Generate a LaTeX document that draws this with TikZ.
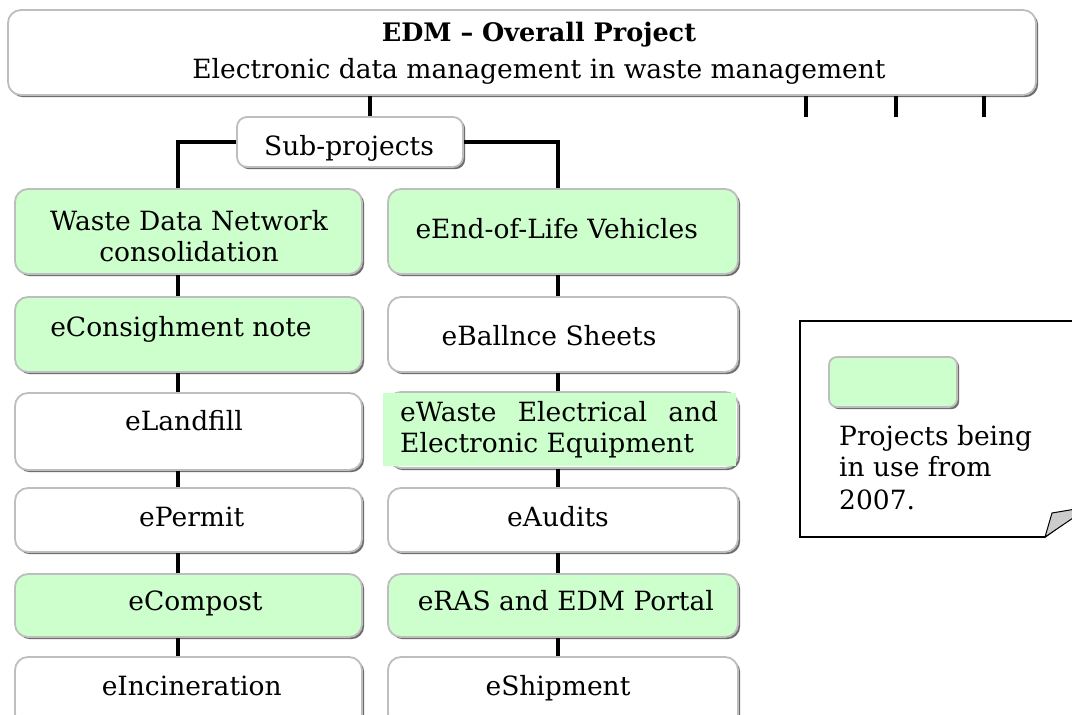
\documentclass[tikz,border=0pt]{standalone}
\usepackage{fontspec}
\setmainfont{DejaVu Serif}
\usetikzlibrary{shadows}
\definecolor{usegreen}{HTML}{CCFFCC}
\definecolor{rimgray}{HTML}{BEBEBE}
\definecolor{shadegray}{HTML}{6E6E6E}
\tikzset{
  box/.style={draw=rimgray, line width=1.8pt, rounded corners=13pt, fill=white,
    inner sep=0pt,
    drop shadow={shadow xshift=2.2pt, shadow yshift=-2.2pt, fill=shadegray, opacity=1}},
  inuse/.style={box, fill=usegreen},
  colL/.style={minimum width=347pt},
  colR/.style={minimum width=350pt},
  txt/.style={anchor=base, inner sep=0pt, font=\fontsize{26.5}{31}\selectfont},
  wire/.style={line width=3.4pt, black},
}
\begin{document}
\begin{tikzpicture}[x=1pt, y=-1pt]
\clip (0,0) rectangle (1072,715);
\fill[white] (0,0) rectangle (1072,715);

% overall project
\node[box, minimum width=1028pt, minimum height=85pt] (top) at (522,52.5) {};
\node[txt, font=\fontsize{25.5}{31}\selectfont\bfseries] (topA) at (539,41.7) {EDM – Overall Project};
\node[txt] (topB) at (539,78.3) {Electronic data management in waste management};

% sub-projects header
\node[box, minimum width=226pt, minimum height=50pt, rounded corners=10pt] (sub) at (350,142) {};
\node[txt] (subT) at (349,155) {Sub-projects};

% left column
\node[inuse, colL, minimum height=85pt] (l1) at (188.5,231.5) {};
\node[inuse, colL, minimum height=75pt] (l2) at (188.5,334.5) {};
\node[box,   colL, minimum height=77pt] (l3) at (188.5,431.5) {};
\node[box,   colL, minimum height=64pt] (l4) at (188.5,520) {};
\node[inuse, colL, minimum height=63pt] (l5) at (188.5,605.5) {};
\node[box,   colL, minimum height=70pt] (l6) at (188.5,692) {};

\node[txt] (l1a) at (189,230) {Waste Data Network};
\node[txt] (l1b) at (189,261.7) {consolidation};
\node[txt] (l2t) at (181,336.7) {eConsighment note};
\node[txt] (l3t) at (184,430) {eLandfill};
\node[txt] (l4t) at (191.7,526.7) {ePermit};
\node[txt] (l5t) at (195.5,610.7) {eCompost};
\node[txt] (l6t) at (191.7,695) {eIncineration};

% right column
\node[inuse, colR, minimum height=85pt] (r1) at (563,231.5) {};
\node[box,   colR, minimum height=75pt] (r2) at (563,334.5) {};
\node[box,   colR, minimum height=76pt] (r3) at (563,430) {};
\node[box,   colR, minimum height=64pt] (r4) at (563,520) {};
\node[inuse, colR, minimum height=63pt] (r5) at (563,605.5) {};
\node[box,   colR, minimum height=70pt] (r6) at (563,692) {};

\node[txt] (r1t) at (556.7,238.3) {eEnd-of-Life Vehicles};
\node[txt] (r2t) at (549,345) {eBallnce Sheets};
\fill[usegreen] (383,393) rectangle (736,466);
\node[txt, anchor=base west] (r3a) at (400,421.7) {\makebox[318pt][s]{eWaste Electrical and}};
\node[txt, anchor=base west] (r3b) at (400,452.7) {Electronic Equipment};
\node[txt] (r4t) at (558,526) {eAudits};
\node[txt] (r5t) at (565.8,610) {eRAS and EDM Portal};
\node[txt] (r6t) at (558,695) {eShipment};

% connectors
\coordinate (cx) at (370,0);
\coordinate (lx) at (178,0);
\coordinate (rx) at (558,0);
\draw[wire] (top.south -| cx) -- (sub.north -| cx);
\draw[wire] (sub.west) -| (l1.north -| lx);
\draw[wire] (sub.east) -| (r1.north -| rx);
\foreach \a/\b in {l1/l2, l2/l3, l3/l4, l4/l5, l5/l6}
  \draw[wire] (\a.south -| lx) -- (\b.north -| lx);
\foreach \a/\b in {r1/r2, r2/r3, r3/r4, r4/r5, r5/r6}
  \draw[wire] (\a.south -| rx) -- (\b.north -| rx);

% further branches of the overall project
\coordinate (t1) at (806,117);
\coordinate (t2) at (896,117);
\coordinate (t3) at (984,117);
\foreach \t in {t1,t2,t3}
  \draw[wire] (top.south -| \t) -- (\t);

% legend note with folded corner
\draw[line width=1.6pt, fill=white] (1080,321) -- (800,321) -- (800,537) -- (1045,537) -- (1080,511);
\filldraw[fill=gray!40, line width=1pt] (1045,537) -- (1052,513) -- (1076,509) -- (1076,516) -- cycle;
\node[inuse, minimum width=128pt, minimum height=50pt, rounded corners=8pt] (key) at (893,382) {};
\node[txt, anchor=base west] (k1) at (839,445.7) {Projects being};
\node[txt, anchor=base west] (k2) at (839,476.7) {in use from};
\node[txt, anchor=base west] (k3) at (839,509) {2007.};
\end{tikzpicture}
\end{document}
